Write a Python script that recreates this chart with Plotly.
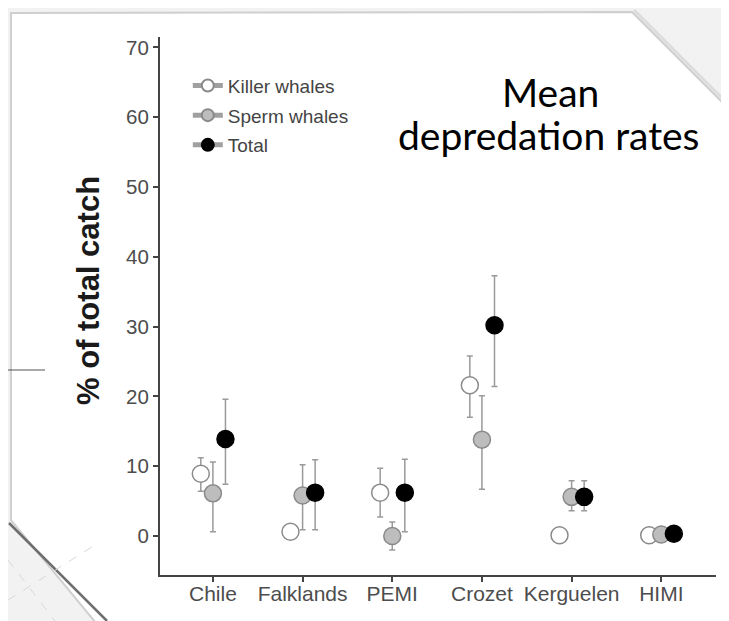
import plotly.graph_objects as go

# ---- data ----
regions = ["Chile", "Falklands", "PEMI", "Crozet", "Kerguelen", "HIMI"]
series_names = ["Killer whales", "Sperm whales", "Total"]

killer_mean = [8.9, 0.6, 6.2, 21.6, 0.1, 0.1]
killer_upper = [11.2, 0.6, 9.7, 25.8, 0.1, 0.1]
killer_lower = [6.4, 0.6, 2.7, 17.0, 0.1, 0.1]

sperm_mean = [6.1, 5.8, 0.0, 13.8, 5.6, 0.2]
sperm_upper = [10.6, 10.2, 2.0, 20.1, 7.9, 0.2]
sperm_lower = [0.6, 0.9, -2.0, 6.7, 3.6, 0.2]

total_mean = [13.9, 6.2, 6.2, 30.2, 5.6, 0.3]
total_upper = [19.6, 10.9, 11.0, 37.3, 7.9, 0.3]
total_lower = [7.4, 0.9, 0.6, 21.4, 3.6, 0.3]

y_ticks = [0, 10, 20, 30, 40, 50, 60, 70]
dodge = [-0.135, 0.0, 0.14]

fills = ["#ffffff", "#bdbdbd", "#000000"]
outlines = ["#8a8a8a", "#8a8a8a", "#000000"]
err_col = "#9a9a9a"

OFF = 8  # page offset of the figure (body margin)
PAGE_W, PAGE_H = 729, 621
W, H = PAGE_W - OFF, PAGE_H - OFF
# plot area in page pixels
PL, PR, PT, PB = 160, 716, 37, 575
L, R, T, B = PL - OFF, PAGE_W - PR, PT - OFF, PAGE_H - PB


def px(xp, yp):
    """convert a page pixel position to paper coordinates"""
    return (xp - PL) / (PR - PL), (PB - yp) / (PB - PT)


fig = go.Figure()

means = [killer_mean, sperm_mean, total_mean]
uppers = [killer_upper, sperm_upper, total_upper]
lowers = [killer_lower, sperm_lower, total_lower]

for i, name in enumerate(series_names):
    xs = [k + dodge[i] for k in range(len(regions))]
    m = means[i]
    up = [u - v for u, v in zip(uppers[i], m)]
    lo = [v - l for l, v in zip(lowers[i], m)]
    fig.add_trace(go.Scatter(
        x=xs, y=m, mode="markers", name=name, showlegend=False,
        marker=dict(size=17, color=fills[i], line=dict(color=outlines[i], width=1.5)),
        error_y=dict(type="data", symmetric=False, array=up, arrayminus=lo,
                     color=err_col, thickness=1.5, width=3),
    ))

# legend-only entries (point + line, as in the original key)
for i, name in enumerate(series_names):
    fig.add_trace(go.Scatter(
        x=[None], y=[None], mode="lines+markers", name=name,
        legendgroup=name,
        line=dict(color="#a0a0a0", width=1),
        marker=dict(size=15, color=fills[i], line=dict(color=outlines[i], width=1.5)),
    ))

# slide frame (decoration)
pts = [(11, 13), (632, 12), (740, 120), (740, 640), (110, 640), (11, 520)]
path = "M " + " L ".join(f"{px(a, b)[0]:.4f},{px(a, b)[1]:.4f}" for a, b in pts) + " Z"


def seg(a, b, c, d, color, width, dash="solid"):
    x0, y0 = px(a, b)
    x1, y1 = px(c, d)
    return dict(type="line", xref="paper", yref="paper", x0=x0, y0=y0, x1=x1, y1=y1,
                line=dict(color=color, width=width, dash=dash), layer="below")


shapes = [
    dict(type="path", xref="paper", yref="paper", path=path,
         fillcolor="white", line=dict(color="#cfcfcf", width=2), layer="below"),
    seg(9, 523, 107, 621, "#6e6e6e", 2.5),
    seg(634, 10, 729, 105, "#dcdcdc", 3),
    seg(0, 370, 45, 370, "#555555", 1.2),
    seg(8, 600, 95, 545, "#d8d8d8", 1, "dash"),
    seg(8, 560, 55, 621, "#d8d8d8", 1, "dash"),
]

ax_font = dict(family="Liberation Sans, Arial, sans-serif", color="#4d4d4d")

fig.update_layout(
    width=W, height=H,
    margin=dict(l=L, r=R, t=T, b=B, autoexpand=False),
    paper_bgcolor="#f2f2f2",
    plot_bgcolor="rgba(0,0,0,0)",
    showlegend=True,
    legend=dict(x=0.05, y=0.945, xanchor="left", yanchor="top",
                bgcolor="rgba(0,0,0,0)", traceorder="grouped", tracegroupgap=2,
                font=dict(family="Liberation Sans, Arial, sans-serif", size=19, color="#444444"),
                itemsizing="constant"),
    xaxis=dict(range=[-0.59, 5.61], tickmode="array", tickvals=list(range(len(regions))),
               ticktext=regions, showgrid=False, zeroline=False,
               showline=True, linecolor="#444444", linewidth=2,
               ticks="outside", ticklen=5, tickwidth=1.5, tickcolor="#444444",
               ticklabelstandoff=-6,
               tickfont=dict(size=21, **ax_font), fixedrange=True),
    yaxis=dict(range=[-5.6, 71.5], tickmode="array", tickvals=y_ticks,
               showgrid=False, zeroline=False,
               showline=True, linecolor="#444444", linewidth=2,
               ticks="outside", ticklen=5, tickwidth=1.5, tickcolor="#444444",
               tickfont=dict(size=20.5, **ax_font), fixedrange=True),
    shapes=shapes,
)

tx, ty = px(88.5, 290.5)
fig.add_annotation(text="<b>% of total catch</b>", xref="paper", yref="paper",
                   x=tx, y=ty, xanchor="center", yanchor="middle",
                   textangle=-90, showarrow=False,
                   font=dict(family="Liberation Sans, Arial, sans-serif", size=31, color="#1a1a1a"))

m1x, m1y = px(550, 92)
fig.add_annotation(text="Mean", xref="paper", yref="paper", x=m1x, y=m1y,
                   xanchor="center", yanchor="middle",
                   showarrow=False, font=dict(family="Lato, sans-serif", size=39, color="#000000"))
m2x, m2y = px(549, 135)
fig.add_annotation(text="depredation rates", xref="paper", yref="paper", x=m2x, y=m2y,
                   xanchor="center", yanchor="middle",
                   showarrow=False, font=dict(family="Lato, sans-serif", size=39, color="#000000"))

fig.write_html("out.html")
